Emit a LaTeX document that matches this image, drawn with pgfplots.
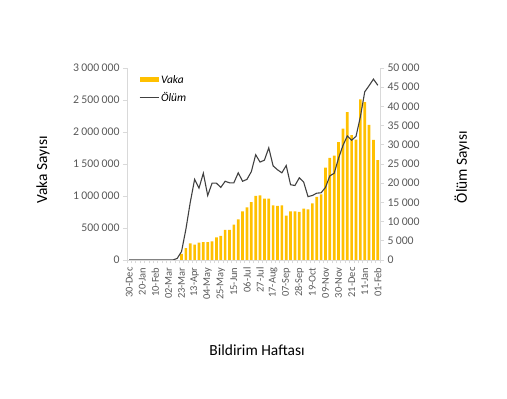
\documentclass[border=0pt]{standalone}
\usepackage{fontspec}
\setmainfont{Carlito}
\usepackage{pgfplots}
\pgfplotsset{compat=1.18}
\usepackage{pgfplotstable}
\definecolor{barY}{HTML}{FFC000}
\definecolor{lineG}{HTML}{404040}
\definecolor{axG}{HTML}{D9D9D9}
\definecolor{txtG}{HTML}{595959}

\pgfplotstableread{
w cases deaths
0 0 0
1 0 0
2 0 0
3 0 0
4 0 0
5 0 0
6 0 0
7 0 0
8 0 0
9 0 0
10 0 0
11 0 400
12 95000 2200
13 187000 8000
14 260000 15000
15 240000 21000
16 271000 18700
17 281000 22600
18 281000 16800
19 292000 20000
20 354000 20000
21 375000 18900
22 469000 20500
23 469000 20100
24 552000 20100
25 635000 22700
26 760000 20500
27 823000 21000
28 906000 23000
29 1000000 27400
30 1010000 25500
31 958000 26000
32 958000 29200
33 854000 24500
34 844000 23500
35 854000 22700
36 693000 24600
37 760000 19600
38 760000 19400
39 750000 21400
40 802000 20300
41 792000 16500
42 885000 16800
43 985000 17400
44 1025000 17500
45 1445000 18900
46 1595000 21900
47 1630000 22600
48 1842000 26500
49 2052000 29800
50 2312000 32300
51 1950000 31200
52 1880000 32200
53 2510000 37300
54 2465000 43800
55 2112000 45400
56 1875000 47100
57 1562000 45500
}\data

\pgfplotsset{
  common/.style={
    at={(127bp,139bp)}, anchor=south west,
    scale only axis, width=253bp, height=192bp,
    xmin=-0.5, xmax=57.5, ymin=0,
    axis line style={axG, line width=0.8pt},
    tick style={axG, line width=0.6pt},
    tick align=outside,
    major tick length=4bp,
    scaled y ticks=false,
    yticklabel style={font=\fontsize{11.8}{13}\selectfont, color=txtG,
      /pgf/number format/.cd, fixed, precision=0, 1000 sep={\hspace{0.2em}}, assume math mode=true},
  },
}

\begin{document}
\begin{tikzpicture}
\useasboundingbox (0,0) rectangle (507bp,399bp);
\begin{axis}[
  common,
  ymax=3000000,
  axis y line*=left, axis x line*=bottom,
  ytick={0,500000,1000000,1500000,2000000,2500000,3000000},
  xtick={0,3,...,57},
  xticklabels={30-Dec,20-Jan,10-Feb,02-Mar,23-Mar,13-Apr,04-May,25-May,15-Jun,06-Jul,27-Jul,17-Aug,07-Sep,28-Sep,19-Oct,09-Nov,30-Nov,21-Dec,11-Jan,01-Feb},
  xticklabel style={rotate=90, anchor=east, font=\fontsize{10.5}{12}\selectfont, color=txtG},
  major x tick style={draw=none},
  minor xtick={-0.5,0.5,...,57.5},
  minor tick length=3bp,
  ylabel={Vaka Sayısı},
  ylabel style={at={(axis description cs:-0.332,0.47)}, anchor=center, font=\fontsize{15.5}{18}\selectfont},
  xlabel={Bildirim Haftası},
  xlabel style={at={(axis description cs:0.514,-0.469)}, anchor=center, font=\fontsize{15.5}{18}\selectfont},
  legend style={at={(axis description cs:0.035,0.985)}, anchor=north west, draw=none, fill=none,
    font=\itshape\fontsize{11.5}{13}\selectfont, row sep=4bp},
  legend cell align=left,
]
\addplot[ybar, bar width=0.62, fill=barY, draw=none,
  legend image code/.code={\fill[barY] (0bp,-2.5bp) rectangle (19bp,2.5bp);}]
  table[x=w, y=cases] {\data};
\addlegendentry{Vaka}
\addlegendimage{lineG, line width=1.1pt, legend image code/.code={\draw[lineG, line width=1.1pt] (0bp,0bp) -- (19bp,0bp);}}
\addlegendentry{Ölüm}
\end{axis}
\begin{axis}[
  common,
  ymax=50000,
  axis y line*=right, axis x line=none,
  ytick={0,5000,...,50000},
  ylabel={Ölüm Sayısı},
  ylabel style={at={(axis description cs:1.324,0.484)}, anchor=center, font=\fontsize{15.5}{18}\selectfont},
]
\addplot[lineG, line width=1.1pt, mark=none] table[x=w, y=deaths] {\data};
\end{axis}
\end{tikzpicture}
\end{document}
